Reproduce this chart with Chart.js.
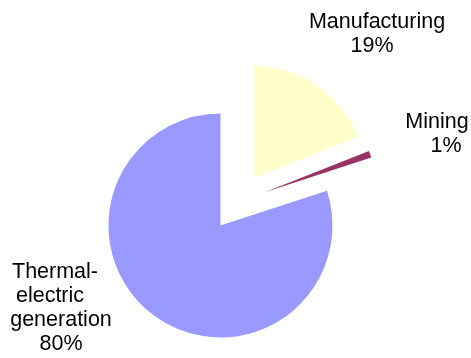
<!DOCTYPE html>
<html>
<head>
<meta charset="utf-8">
<script src="https://cdn.jsdelivr.net/npm/chart.js@4"></script>
<style>
    body { margin: 0; background: #ffffff; }
    #wrap { width: 471px; height: 358px; }
</style>
</head>
<body>
<div id="wrap"><canvas id="pieChart"></canvas></div>
<script>
// Water use by sector (%)
const categories = ['Manufacturing', 'Mining', 'Thermal-electric generation'];
const shares = [19, 1, 80];
const sliceColors = ['#FFFFCC', '#993366', '#9999FF'];

// Label placement: centre x for each text line and baseline of the first line
const labelLayout = [
    { xs: [377, 372], y: 28 },
    { xs: [437, 446], y: 128 },
    { xs: [55, 50, 61, 61], y: 278 }
];
const lineHeight = 24;
const explode = 29;

// Pull every slice out from the centre along its middle angle
const explodePlugin = {
    id: 'explode',
    beforeDatasetDraw(chart, args) {
        const ctx = chart.ctx;
        args.meta.data.forEach(arc => {
            const mid = (arc.startAngle + arc.endAngle) / 2;
            ctx.save();
            ctx.translate(Math.cos(mid) * explode, Math.sin(mid) * explode);
            arc.draw(ctx);
            ctx.restore();
        });
        return false;
    }
};

// Category name and percentage written beside each slice
const sliceLabels = {
    id: 'sliceLabels',
    afterDraw(chart) {
        const ctx = chart.ctx;
        ctx.save();
        ctx.font = '21.5px "Liberation Sans", Arial, sans-serif';
        ctx.fillStyle = '#000000';
        ctx.textAlign = 'center';
        ctx.textBaseline = 'alphabetic';
        chart.data.labels.forEach((name, i) => {
            const lines = name.replace('-', '-\n').split(/[\n ]/);
            lines.push(chart.data.datasets[0].data[i] + '%');
            const pos = labelLayout[i];
            lines.forEach((line, j) => {
                ctx.fillText(line, pos.xs[j], pos.y + j * lineHeight);
            });
        });
        ctx.restore();
    }
};

const ctx = document.getElementById('pieChart').getContext('2d');
new Chart(ctx, {
    type: 'pie',
    data: {
        labels: categories,
        datasets: [{
            data: shares,
            backgroundColor: sliceColors,
            borderWidth: 0
        }]
    },
    options: {
        responsive: true,
        maintainAspectRatio: false,
        animation: false,
        radius: 112,
        layout: {
            padding: { left: 4, right: 0, top: 46, bottom: 0 }
        },
        plugins: {
            legend: { display: false },
            tooltip: { enabled: false }
        }
    },
    plugins: [explodePlugin, sliceLabels]
});
</script>
</body>
</html>
